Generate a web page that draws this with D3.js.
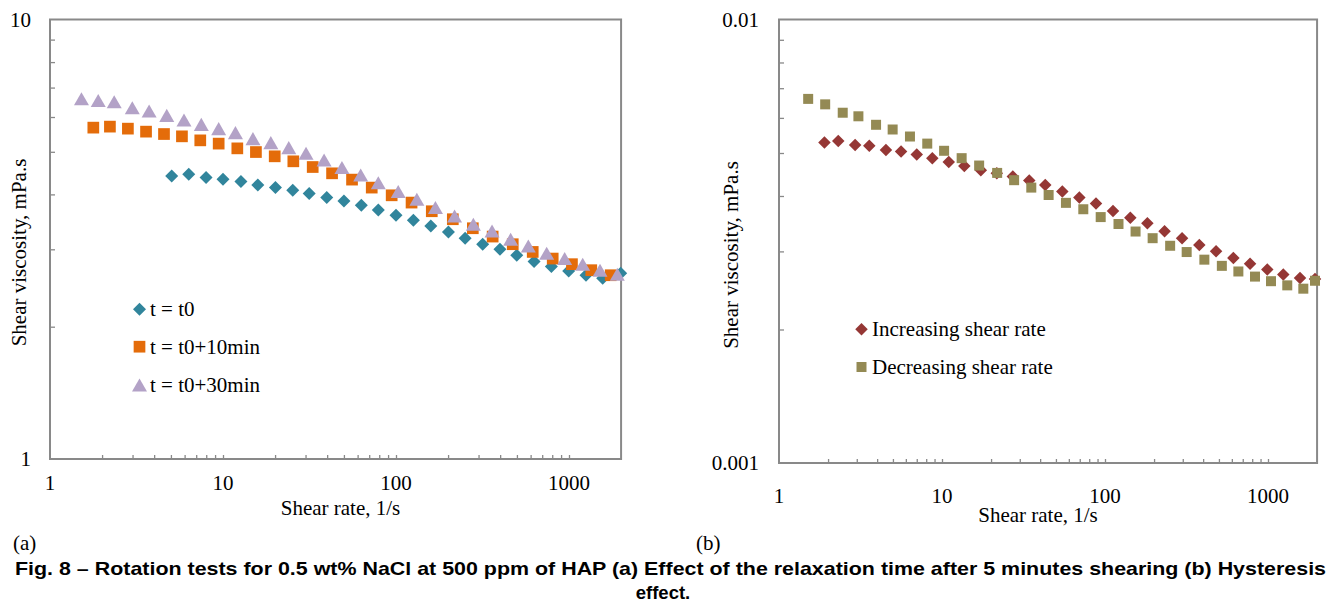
<!DOCTYPE html>
<html><head><meta charset="utf-8">
<script src="https://cdn.jsdelivr.net/npm/d3@7"></script>
<style>body{margin:0;background:#fff}svg{display:block}</style>
</head><body>
<svg id="c" width="1329" height="603"></svg>
<script>
// ---- Chart (a): relaxation time ----
const rateA0 = [5.05, 6.34, 7.98, 10.0, 12.7, 15.9, 20.1, 25.3, 31.5, 39.8, 50.0, 63.0, 79.0, 100, 126, 159, 201, 251, 317, 399, 499, 628, 791, 996, 1254, 1566, 1990];
const viscA0 = [4.405, 4.444, 4.368, 4.329, 4.277, 4.202, 4.145, 4.087, 4.017, 3.934, 3.864, 3.779, 3.687, 3.585, 3.493, 3.390, 3.285, 3.179, 3.081, 3.002, 2.909, 2.814, 2.741, 2.679, 2.619, 2.578, 2.647];
const rateA10 = [1.78, 2.22, 2.82, 3.59, 4.56, 5.79, 7.39, 9.44, 12.1, 15.5, 19.9, 25.5, 33.0, 42.7, 55.7, 72.4, 94.4, 123, 161, 213, 278, 362, 473, 617, 805, 1040, 1345, 1742];
const viscA10 = [5.675, 5.705, 5.645, 5.557, 5.488, 5.422, 5.309, 5.219, 5.091, 4.994, 4.883, 4.757, 4.617, 4.467, 4.322, 4.145, 3.981, 3.832, 3.662, 3.512, 3.350, 3.207, 3.081, 2.959, 2.858, 2.775, 2.689, 2.619];
const rateA30 = [1.52, 1.90, 2.35, 2.99, 3.74, 4.73, 5.95, 7.49, 9.44, 11.8, 14.9, 18.9, 24.0, 30.2, 38.4, 48.7, 62.5, 79.0, 103, 132, 169, 218, 280, 359, 460, 582, 743, 944, 1200, 1511, 1902];
const viscA30 = [6.603, 6.544, 6.501, 6.300, 6.189, 6.051, 5.904, 5.773, 5.645, 5.528, 5.357, 5.246, 5.110, 4.961, 4.789, 4.603, 4.427, 4.250, 4.059, 3.899, 3.733, 3.573, 3.420, 3.302, 3.162, 3.054, 2.939, 2.858, 2.775, 2.689, 2.633];
const legendA = ["t = t0", "t = t0+10min", "t = t0+30min"];
const yTicksA = [1, 10];

// ---- Chart (b): hysteresis ----
const rateInc = [1.90, 2.31, 2.93, 3.58, 4.53, 5.61, 7.00, 8.72, 11.0, 13.7, 17.3, 21.7, 27.2, 34.3, 43.0, 54.7, 69.6, 88.1, 112, 143, 182, 232, 297, 379, 480, 613, 776, 990, 1241, 1572, 1943];
const viscInc = [0.005282, 0.005321, 0.005209, 0.005191, 0.005079, 0.005040, 0.004963, 0.004863, 0.004771, 0.004676, 0.004574, 0.004504, 0.004425, 0.004335, 0.004235, 0.004093, 0.003970, 0.003846, 0.003702, 0.003572, 0.003472, 0.003330, 0.003210, 0.003100, 0.003002, 0.002900, 0.002815, 0.002732, 0.002662, 0.002612, 0.002599];
const rateDec = [1.51, 1.92, 2.46, 3.07, 3.94, 4.98, 6.36, 8.12, 10.3, 13.2, 16.9, 21.8, 27.7, 35.3, 45.1, 57.6, 73.6, 94.1, 121, 154, 196, 251, 317, 407, 521, 658, 832, 1043, 1313, 1647, 1943];
const viscDec = [0.006622, 0.006437, 0.006163, 0.006050, 0.005789, 0.005649, 0.005447, 0.005250, 0.005058, 0.004868, 0.004685, 0.004509, 0.004342, 0.004178, 0.004021, 0.003860, 0.003734, 0.003585, 0.003459, 0.003326, 0.003213, 0.003089, 0.002990, 0.002874, 0.002783, 0.002703, 0.002632, 0.002570, 0.002515, 0.002472, 0.002576];
const legendB = ["Increasing shear rate", "Decreasing shear rate"];
const yTicksB = [0.001, 0.01];

const xTicks = [1, 10, 100, 1000];
const xTitle = "Shear rate, 1/s";
const yTitle = "Shear viscosity, mPa.s";
const captionLine1 = "Fig. 8 \u2013 Rotation tests for 0.5 wt% NaCl at 500 ppm of HAP (a) Effect of the relaxation time after 5 minutes shearing (b) Hysteresis";
const captionLine2 = "effect.";

// ---- symbols (size = pixel extent) ----
const symDiamond = {draw(ctx, s){const r=s/2; ctx.moveTo(0,-r); ctx.lineTo(r,0); ctx.lineTo(0,r); ctx.lineTo(-r,0); ctx.closePath();}};
const symSquare = {draw(ctx, s){const r=s/2; ctx.moveTo(-r,-r); ctx.lineTo(r,-r); ctx.lineTo(r,r); ctx.lineTo(-r,r); ctx.closePath();}};
const symTriangle = {draw(ctx, s){const h=s*0.87, r=s/2; ctx.moveTo(0,-h/2); ctx.lineTo(r,h/2); ctx.lineTo(-r,h/2); ctx.closePath();}};

const svg = d3.select("#c");
const SERIF = "'Liberation Serif','Times New Roman',serif";
const GRAY = "#898989";

function minorTicks(lo, hi){
  const t=[];
  for(let d=lo; d<hi; d*=10){ for(let k=1;k<10;k++){ const v=k*d; if(v>lo && v<hi) t.push(v);} }
  return t;
}

function drawChart(cfg){
  const g = svg.append("g");
  const x = d3.scaleLog().domain(cfg.xDomain).range([cfg.left, cfg.left + cfg.decX*Math.log10(cfg.xDomain[1]/cfg.xDomain[0])]);
  const y = d3.scaleLog().domain(cfg.yDomain).range([cfg.bottom, cfg.top]);
  const [x0,x1] = x.range();
  // inner ticks
  g.append("g").attr("transform",`translate(0,${cfg.bottom})`)
    .call(d3.axisBottom(x).tickValues(minorTicks(cfg.xDomain[0], cfg.xDomain[1])).tickSize(-4).tickFormat(""))
    .call(s=>{s.select(".domain").remove(); s.selectAll("line").attr("stroke",GRAY).attr("stroke-width",1.3);});
  g.append("g").attr("transform",`translate(${cfg.left},0)`)
    .call(d3.axisLeft(y).tickValues(minorTicks(cfg.yDomain[0], cfg.yDomain[1])).tickSize(-5).tickFormat(""))
    .call(s=>{s.select(".domain").remove(); s.selectAll("line").attr("stroke",GRAY).attr("stroke-width",1.3);});
  // frame
  g.append("rect").attr("x",x0).attr("y",cfg.top).attr("width",x1-x0).attr("height",cfg.bottom-cfg.top)
    .attr("fill","none").attr("stroke",GRAY).attr("stroke-width",2);
  // tick labels
  g.selectAll(".xl").data(xTicks).join("text")
    .attr("x",d=>x(d)).attr("y",cfg.xLabelBase).attr("text-anchor","middle")
    .attr("font-family",SERIF).attr("font-size",21).attr("fill","#000").text(d=>String(d));
  g.selectAll(".yl").data(cfg.yTicks).join("text")
    .attr("x",cfg.yLabelRight).attr("y",d=>y(d)+7).attr("text-anchor","end")
    .attr("font-family",SERIF).attr("font-size",21).attr("fill","#000").text(d=>String(d));
  // titles
  g.append("text").attr("x",cfg.xTitleX).attr("y",cfg.xTitleBase).attr("text-anchor","middle")
    .attr("font-family",SERIF).attr("font-size",21).text(xTitle);
  g.append("text").attr("transform",`translate(${cfg.yTitleX},${cfg.yTitleY}) rotate(-90)`)
    .attr("text-anchor","middle").attr("dominant-baseline","central")
    .attr("font-family",SERIF).attr("font-size",21).text(yTitle);
  // series
  cfg.series.forEach(s=>{
    const pts = s.rate.map((r,i)=>[r, s.visc[i]]);
    g.append("g").selectAll("path").data(pts).join("path")
      .attr("transform",d=>`translate(${x(d[0])},${y(d[1])})`)
      .attr("d", d3.symbol().type(s.sym).size(s.size))
      .attr("fill", s.color);
  });
  // legend
  cfg.series.forEach((s,i)=>{
    const ly = cfg.legY[i];
    g.append("path").attr("transform",`translate(${cfg.legX},${ly})`)
      .attr("d", d3.symbol().type(s.sym).size(s.size)).attr("fill", s.color);
    g.append("text").attr("x",cfg.legX+10.5).attr("y",ly+7)
      .attr("font-family",SERIF).attr("font-size",21).attr("fill","#000").text(s.label);
  });
}

drawChart({
  left:50, decX:173, top:19.5, bottom:459,
  xDomain:[1,2000], yDomain:[1,10], yTicks:yTicksA,
  xLabelBase:490, yLabelRight:31, xTitleX:340.5, xTitleBase:515, yTitleX:18.5, yTitleY:252.5,
  legX:139.5, legY:[309.3,346.7,385],
  series:[
    {rate:rateA0, visc:viscA0, sym:symDiamond, size:13, color:"#31859C", label:legendA[0]},
    {rate:rateA10, visc:viscA10, sym:symSquare, size:11.7, color:"#E46C0A", label:legendA[1]},
    {rate:rateA30, visc:viscA30, sym:symTriangle, size:15, color:"#B3A2C7", label:legendA[2]}
  ]
});

drawChart({
  left:779, decX:163, top:19.5, bottom:463,
  xDomain:[1,2000], yDomain:[0.001,0.01], yTicks:yTicksB,
  xLabelBase:503, yLabelRight:759, xTitleX:1038, xTitleBase:522, yTitleX:731, yTitleY:255,
  legX:861.5, legY:[329.3,367],
  series:[
    {rate:rateInc, visc:viscInc, sym:symDiamond, size:12.5, color:"#953735", label:legendB[0]},
    {rate:rateDec, visc:viscDec, sym:symSquare, size:10, color:"#948A54", label:legendB[1]}
  ]
});

// panel labels and caption
svg.append("text").attr("x",13).attr("y",549.5).attr("font-family",SERIF).attr("font-size",21).text("(a)");
svg.append("text").attr("x",696).attr("y",549.5).attr("font-family",SERIF).attr("font-size",21).text("(b)");
svg.append("text").attr("x",15).attr("y",575).attr("font-family","'Liberation Sans',Arial,sans-serif")
  .attr("font-weight","bold").attr("font-size",18.5).attr("textLength",1311).attr("lengthAdjust","spacingAndGlyphs").text(captionLine1);
svg.append("text").attr("x",663).attr("y",599).attr("text-anchor","middle").attr("font-family","'Liberation Sans',Arial,sans-serif")
  .attr("font-weight","bold").attr("font-size",18.5).text(captionLine2);
</script>
</body></html>
